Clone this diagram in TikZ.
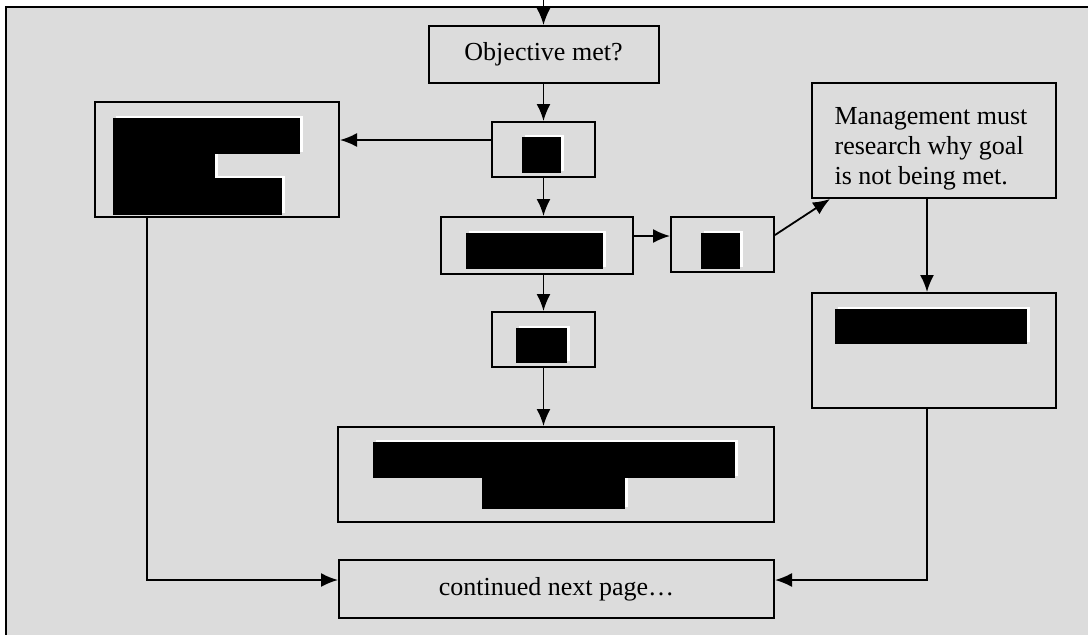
\documentclass[tikz,border=0pt]{standalone}
\usepackage{fontspec}
\setmainfont{Liberation Serif}
\usetikzlibrary{arrows.meta,calc}
\definecolor{bggray}{HTML}{DCDCDC}
\tikzset{>={Latex[length=17pt,width=14pt]}}
\tikzset{
  box/.style={draw,line width=2pt,inner sep=0pt},
  link/.style={line width=1.8pt,->}
}
% blacked-out text: white edge first, black block on top
\newcommand{\redact}[1]{%
  \foreach \a/\b/\c/\d in {#1}
    {\fill[white] (\a+2.5,\b-2.5) rectangle (\c+2.5,\d-2.5);}
  \foreach \a/\b/\c/\d in {#1}
    {\fill[black] (\a,\b) rectangle (\c,\d);}%
}

\begin{document}
\begin{tikzpicture}[x=1pt,y=-1pt,font=\fontsize{26}{30}\selectfont]
    \useasboundingbox (0,0) rectangle (1088,635);
    \fill[white] (0,0) rectangle (1088,635);
    \fill[bggray] (6,6.7) rectangle (1088,635);
    \draw[line width=2.4pt] (6,635) -- (6,6.7) -- (1088,6.7);

    \node[box,minimum width=230pt,minimum height=57pt] (obj) at (543.5,54.5)
    {Objective met?};
    \node[box,minimum width=244pt,minimum height=115pt] (lbox) at (217,159.5) {};
    \node[box,minimum width=103pt,minimum height=55pt] (box1) at (543.5,149.5) {};
    \node[box,minimum width=192pt,minimum height=57pt] (box2) at (537,245.5) {};
    \node[box,minimum width=103pt,minimum height=55pt] (box3) at (722.5,244.5) {};
    \node[box,minimum width=244pt,minimum height=115pt] (mgmt) at (934,140.5) {};
    \node[align=left,inner sep=0pt] (mgmttxt) at ([xshift=-3pt,yshift=-8pt]mgmt.center)
    {Management must\\research why goal\\is not being met.};
    \node[box,minimum width=244pt,minimum height=115pt] (rbox) at (934,350.5) {};
    \node[box,minimum width=103pt,minimum height=55pt] (box4) at (543.5,339.5) {};
    \node[box,minimum width=436pt,minimum height=95pt] (box5) at (556,474.5) {};
    \node[box,minimum width=435pt,minimum height=58pt] (cont) at (556.5,589)
    {continued next page…};

    % hidden text
    \redact{113/118/300/154,113/154/215/178,113/178/282/215}
    \redact{522/137/561/173}
    \redact{466/233/603/269}
    \redact{701/233/740/269}
    \redact{516/328/567/363}
    \redact{373/442/735/478,482/478/625/509}
    \redact{835/309/1027/344}

    \coordinate (top) at (obj.north |- 0,0);
    \draw[link] (top) -- (obj.north);
    \draw[link] (obj.south) -- (box1.north);
    \draw[link] (box1.west |- 0,140) -- (lbox.east |- 0,140);
    \draw[link] (box1.south) -- (box1.south |- box2.north);
    \draw[link] (box2.east |- 0,236) -- (box3.west |- 0,236);
    \draw[link] (box3.east |- 0,235) -- ($(mgmt.south west)+(19,0)$);
    \draw[link] (mgmt.south -| 927,0) -- (rbox.north -| 927,0);
    \draw[link] (box2.south -| box1.south) -- (box4.north);
    \draw[link] (box4.south) -- (box4.south |- box5.north);
    \draw[link] (lbox.south -| 147,0) -- (147,580) -- (cont.west |- 0,580);
    \draw[link] (rbox.south -| 927,0) -- (927,580) -- (cont.east |- 0,580);
  \end{tikzpicture}
\end{document}
